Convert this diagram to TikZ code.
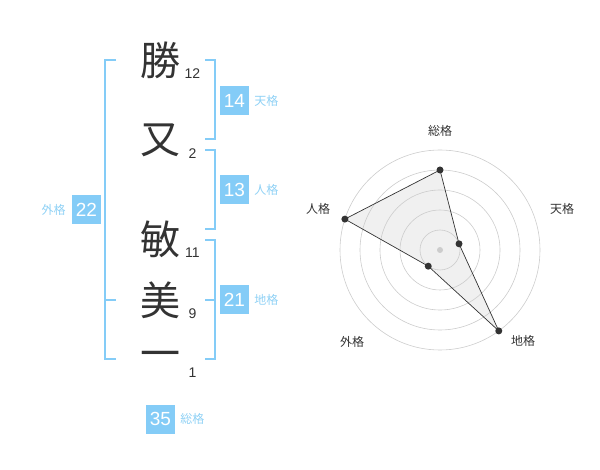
\documentclass[tikz,border=0pt]{standalone}
\usepackage{fontspec}
\setmainfont{Noto Sans CJK JP}
\newfontfamily\digitfont{Liberation Sans}
\usepackage{tikz}
\usetikzlibrary{positioning}
\definecolor{kakublue}{HTML}{84CCF7}
\definecolor{kakutext}{HTML}{8FD1F5}
\definecolor{moji}{HTML}{333333}
\tikzstyle{kanji}=[font=\fontsize{40}{40}\selectfont,text=moji,inner sep=0pt]
\tikzstyle{stroke}=[font=\digitfont\fontsize{14}{14}\selectfont,text=moji,inner sep=0pt]
\tikzstyle{valuebox}=[fill=kakublue,text=white,minimum size=29pt,inner sep=0pt,font=\digitfont\fontsize{19}{19}\selectfont]
\tikzstyle{kakuname}=[text=kakutext,font=\fontsize{12}{12}\selectfont,inner sep=0pt]
\tikzstyle{bracket} = [draw=kakublue,line width=1.6pt]
\tikzstyle{ring} = [draw=black!20,line width=0.6pt]
\tikzstyle{axislabel} = [text=moji,font=\fontsize{12}{12}\selectfont,inner sep=0pt]
\tikzstyle{dot} = [circle,fill=moji,minimum size=7pt,inner sep=0pt]

\begin{document}
\begin{tikzpicture}[x=1pt,y=-1pt]
    \useasboundingbox (0,0) rectangle (600,470);
    % First we draw the characters and their stroke counts
    \foreach \pos/\num/\name/\kanji in {{(160,60.5)/12/K1/勝}, {(160,140.5)/2/K2/又}, {(160,239.5)/11/K3/敏}, {(160,300.5)/9/K4/美}, {(160,360)/1/K5/一}}
    {
        \node[kanji] (\name) at \pos {\kanji};
        \node[stroke] (\name n) at ([shift={(32.5,12.8)}]\name.center) {\num};
    }

    % Then the brackets
    \draw[bracket] (205,60) -- (215,60) -- (215,139) -- (205,139);
    \draw[bracket] (205,150) -- (215,150) -- (215,229) -- (205,229);
    \draw[bracket] (205,240) -- (215,240) -- (215,359) -- (205,359);
    \draw[bracket] (205,300) -- (215,300);
    \draw[bracket] (116,60) -- (105,60) -- (105,359) -- (116,359);
    \draw[bracket] (105,300) -- (116,300);

    % The values with their names
    \foreach \pos/\val/\name/\lab in {{(234.5,100.5)/14/ten/天格}, {(234.5,190)/13/jin/人格}, {(234.5,300)/21/chi/地格}, {(160.5,419)/35/sou/総格}}
    {
        \node[valuebox] (\name) at \pos {\val};
        \node[kakuname,right=5pt of \name] (\name l) {\lab};
    }
    \node[valuebox] (gai) at (86.5,210) {22};
    \node[kakuname,left=6pt of gai] (gail) {外格};

    % Radar chart
    \begin{scope}[shift={(440,250)},yscale=-1]
        \foreach \ang/\rad/\name in {90/80/Psou, 18/20/Pten, -54/100/Pchi, -126/20/Pgai, 162/100/Pjin}
            \coordinate (\name) at (\ang:\rad);
        \fill[black!6] (Psou) -- (Pten) -- (Pchi) -- (Pgai) -- (Pjin) -- cycle;
        \foreach \r in {20,40,...,100}
            \draw[ring] (0,0) circle (\r);
        \node[circle,fill=black!20,minimum size=6pt,inner sep=0pt] (O) at (0,0) {};
        \draw[moji,line width=0.7pt] (Psou) -- (Pten) -- (Pchi) -- (Pgai) -- (Pjin) -- cycle;
        \foreach \name in {Psou,Pten,Pchi,Pgai,Pjin}
            \node[dot] at (\name) {};
        \foreach \pos/\name/\lab in {{(0,119)/Lsou/総格}, {(122,41)/Lten/天格}, {(83,-91)/Lchi/地格}, {(-88,-92)/Lgai/外格}, {(-122,41)/Ljin/人格}}
            \node[axislabel] (\name) at \pos {\lab};
    \end{scope}
\end{tikzpicture}
\end{document}
